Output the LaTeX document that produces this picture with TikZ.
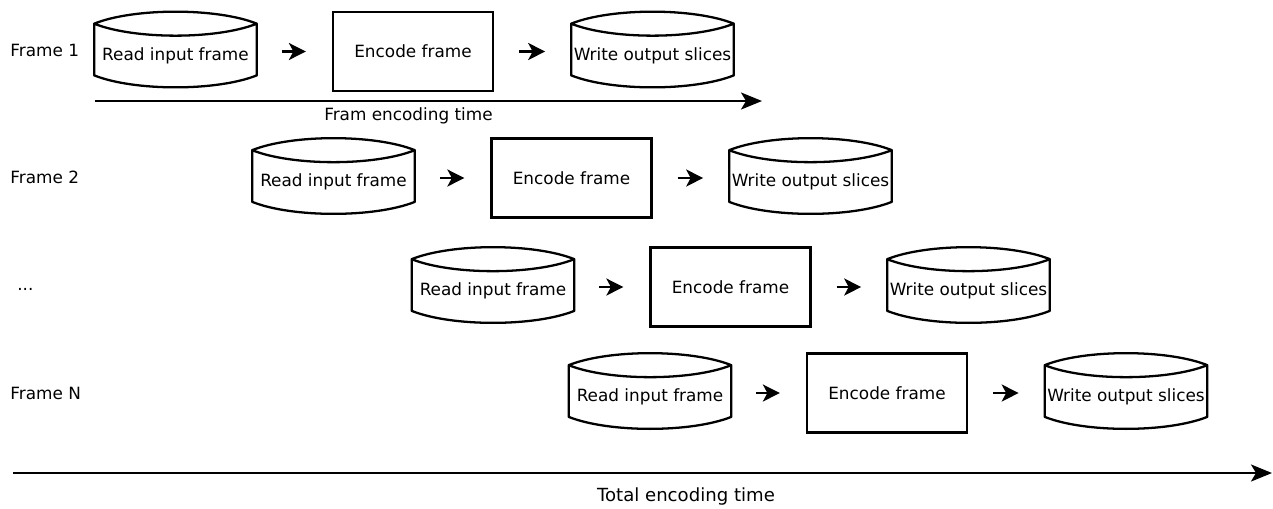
\documentclass[tikz,border=0pt]{standalone}
\usepackage{fontspec}
\setmainfont{DejaVu Sans}
\usetikzlibrary{positioning,arrows.meta}

\begin{document}
\begin{tikzpicture}[
  x=0.02cm, y=-0.02cm,
  every node/.append style={font=\fontsize{9.6}{11}\selectfont},
  drum/.style={rectangle, inner sep=0pt, minimum width=3.24cm, minimum height=0.78cm},
  encbox/.style={draw, line width=1.3pt, rectangle, inner sep=0pt, minimum width=3.2cm, minimum height=1.58cm},
  drumline/.style={line width=1.3pt, line join=round},
  step arrow/.style={line width=1.3pt, -{Stealth[length=3.4mm, width=3.4mm, inset=0.9mm]}, shorten <=0.5cm, shorten >=0.52cm},
  time arrow/.style={line width=1.3pt, -{Stealth[length=4.2mm, width=3.4mm, inset=1mm]}},
  rowlbl/.style={anchor=west, inner sep=0pt},
]
\useasboundingbox (0,0) rectangle (1273,508);
% row labels
\node[rowlbl] (lbl1) at (10,50) {Frame 1};
\node[rowlbl] (lbl2) at (10,177) {Frame 2};
\node[rowlbl] (lbl3) at (17,289) {...};
\node[rowlbl] (lbl4) at (10,393) {Frame N};
% frame 1
\node[drum] (rd1) at (175.5,55.5) {Read input frame};
\node[encbox] (enc1) at (413,51.5) {Encode frame};
\node[drum] (wr1) at (652.5,55.5) {Write output slices};
% frame 2
\node[drum] (rd2) at (333.5,182) {Read input frame};
\node[encbox] (enc2) at (571.5,178) {Encode frame};
\node[drum] (wr2) at (810.5,182) {Write output slices};
% frame 3
\node[drum] (rd3) at (493,291) {Read input frame};
\node[encbox] (enc3) at (730.5,287) {Encode frame};
\node[drum] (wr3) at (968.5,291) {Write output slices};
% frame N
\node[drum] (rd4) at (650,397) {Read input frame};
\node[encbox] (enc4) at (887,393) {Encode frame};
\node[drum] (wr4) at (1126,397) {Write output slices};
% drum outlines
\foreach \d in {rd1,wr1,rd2,wr2,rd3,wr3,rd4,wr4}{
  \draw[drumline] ([yshift=0.24cm]\d.north west)
      .. controls +(40,-16) and +(-40,-16) .. ([yshift=0.24cm]\d.north east)
      .. controls +(-40,16) and +(40,16) .. ([yshift=0.24cm]\d.north west)
      -- (\d.south west)
      .. controls +(40,16) and +(-40,16) .. (\d.south east)
      -- ([yshift=0.24cm]\d.north east);
}
% steps
\foreach \i in {1,...,4}{
  \draw[step arrow] (rd\i.east |- enc\i.west) -- (enc\i.west);
  \draw[step arrow] (enc\i.east) -- (wr\i.west |- enc\i.east);
}
% time axes
\coordinate (t1s) at (95,101);
\coordinate (t1e) at (762,101);
\draw[time arrow] (t1s) -- (t1e);
\node (t1lbl) at (408.5,116) {Fram encoding time};
\coordinate (tts) at (13,473);
\coordinate (tte) at (1272,473);
\draw[time arrow] (tts) -- (tte);
\node[font=\fontsize{10.3}{12}\selectfont] (ttlbl) at (686,496) {Total encoding time};
\end{tikzpicture}
\end{document}
